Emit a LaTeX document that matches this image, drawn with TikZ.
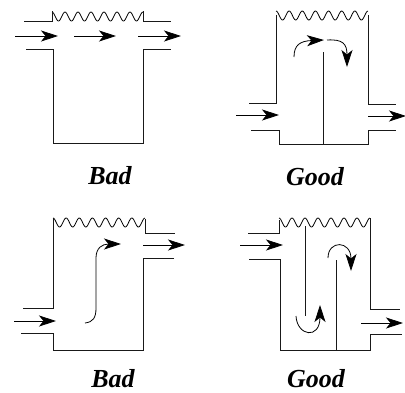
\documentclass[tikz,border=0pt]{standalone}
\usepackage{fontspec}
\setmainfont{Liberation Serif}
\usetikzlibrary{arrows.meta}
\tikzset{
  wall/.style={line width=0.9pt,line join=miter,black!90},
  wavy/.style={line width=0.8pt,black},
  flow/.style={line width=0.8pt,-{Stealth[length=17pt,width=11pt,inset=4.5pt]}},
  captiontext/.style={font=\fontsize{26}{28}\selectfont\bfseries\itshape,inner sep=0pt,anchor=center}
}
\newcommand{\wavetop}[3]{\draw[wavy] plot[domain=0:1,samples=120,smooth] ({#1+\x*(#2-#1)},{#3-4.5*cos(7*360*\x)});}
\begin{document}
\begin{tikzpicture}[x=1pt,y=-1pt]
\useasboundingbox (0,0) rectangle (405,392);
% panel 1
\wavetop{52}{143}{16.5}
\draw[wall] (24,21)--(52,21)--(52,11);
\draw[wall] (143,11)--(143,21)--(171,21);
\draw[wall] (26,49)--(53,49)--(53,143)--(143,143)--(143,49)--(171,49);
\coordinate (a1) at (15,36); \coordinate (a2) at (58,36);
\coordinate (a3) at (74,36); \coordinate (a4) at (116,36);
\coordinate (a5) at (138,36); \coordinate (a6) at (181,36);
\draw[flow] (a1)--(a2); \draw[flow] (a3)--(a4); \draw[flow] (a5)--(a6);
\node[captiontext] (t1) at (110,176) {Bad};
% panel 2
\wavetop{276}{368}{15.5}
\draw[wall] (276,15)--(276,103)--(249,103);
\draw[wall] (368,15)--(368,104)--(396,104);
\draw[wall] (251,130)--(279,130)--(279,144)--(368,144)--(368,130)--(396,130);
\draw[wall] (323,52)--(323,144);
\coordinate (b1) at (236,115); \coordinate (b2) at (279,115);
\coordinate (b3) at (368,116); \coordinate (b4) at (406,116);
\draw[flow] (b1)--(b2); \draw[flow] (b3)--(b4);
\draw[flow] (294,57) .. controls (294,45) and (300,41) .. (324,40);
\draw[flow] (327,40) .. controls (343,39) and (347,44) .. (347,67);
\node[captiontext] (t2) at (315,177) {Good};
% panel 3
\wavetop{53}{145}{222.5}
\draw[wall] (53,218)--(53,308)--(23,308);
\draw[wall] (145,219)--(145,233)--(175,233);
\draw[wall] (174,258)--(143,258)--(143,350)--(53,350)--(53,333)--(21,333);
\coordinate (c1) at (14,321); \coordinate (c2) at (56,321);
\coordinate (c3) at (143,245); \coordinate (c4) at (185,245);
\draw[flow] (c1)--(c2); \draw[flow] (c3)--(c4);
\draw[flow] (85,323) .. controls (93,322) and (96,318) .. (96,308) -- (96,258) .. controls (96,248) and (102,244) .. (121,244);
\node[captiontext] (t3) at (113,379) {Bad};
% panel 4
\wavetop{279}{370}{222.5}
\draw[wall] (279,220)--(279,233)--(248,233);
\draw[wall] (370,218)--(370,309)--(400,309);
\draw[wall] (249,259)--(280,259)--(280,350)--(370,350)--(370,334)--(402,334);
\draw[wall] (305,226)--(305,316);
\draw[wall] (336,260)--(336,350);
\coordinate (d1) at (240,245); \coordinate (d2) at (283,245);
\coordinate (d3) at (361,323); \coordinate (d4) at (403,323);
\draw[flow] (d1)--(d2); \draw[flow] (d3)--(d4);
\draw[flow] (296,316) .. controls (297,336) and (320,340) .. (320,305);
\draw[flow] (328,258) .. controls (328,240) and (351,240) .. (351,271);
\node[captiontext] (t4) at (316,379) {Good};
\end{tikzpicture}
\end{document}
